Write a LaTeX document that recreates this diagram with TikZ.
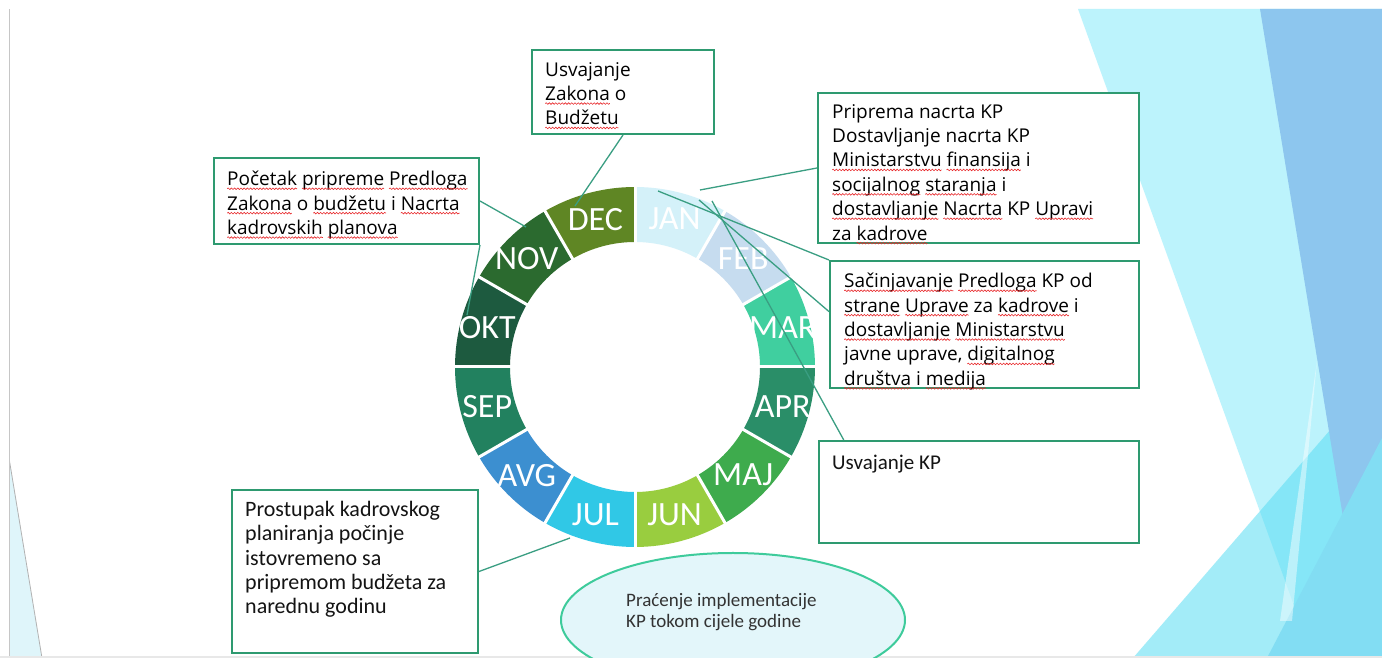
\documentclass[tikz,border=0pt]{standalone}
\usepackage{fontspec}
\usetikzlibrary{calc,shapes.geometric,decorations.pathmorphing}
\newfontfamily\boxfont{Open Sans}
\newfontfamily\twfont{Carlito}
\definecolor{sqred}{HTML}{E8282B}
\newcommand\sq[1]{\tikz[baseline=(sqw.base)]{\node[inner sep=0pt,outer sep=0pt] (sqw) {#1};\draw[overlay, sqred, line width=0.6pt, decorate, decoration={snake, amplitude=0.8pt, segment length=3.2pt}] ([yshift=-3pt]sqw.base west) -- ([yshift=-3pt]sqw.base east);}}
\definecolor{cJAN}{HTML}{D4F1F9}
\definecolor{cFEB}{HTML}{C6DCEF}
\definecolor{cMAR}{HTML}{40CF9F}
\definecolor{cAPR}{HTML}{2A8E68}
\definecolor{cMAJ}{HTML}{3EAB4D}
\definecolor{cJUN}{HTML}{99CD3F}
\definecolor{cJUL}{HTML}{30C8E6}
\definecolor{cAVG}{HTML}{3C8FD0}
\definecolor{cSEP}{HTML}{22815F}
\definecolor{cOKT}{HTML}{1D5A3F}
\definecolor{cNOV}{HTML}{2B6A2F}
\definecolor{cDEC}{HTML}{5F8624}
\definecolor{boxc}{HTML}{2E9A70}
\definecolor{linec}{HTML}{3A9E82}
\definecolor{ellc}{HTML}{3ECB9B}
\definecolor{ellf}{HTML}{E3F6FA}
\definecolor{bgA}{HTML}{BCF3FC}
\definecolor{bgB}{HTML}{8DC6EE}
\definecolor{bgC}{HTML}{58DDF3}
\definecolor{bgD}{HTML}{82DDF3}
\definecolor{bgL}{HTML}{DFF5FA}
\tikzset{
  box/.style={draw=boxc, line width=2, fill=white, inner sep=0, anchor=north west},
  btxt/.style={inner sep=0, anchor=north west, align=left, text=black, font=\boxfont\fontsize{19}{24.4}\selectfont},
  ttxt/.style={inner sep=0, anchor=north west, align=left, text=black!92, font=\twfont\fontsize{22}{24.3}\selectfont},
  month/.style={inner sep=0, text=white, font=\twfont\fontsize{34}{34}\selectfont},
  conn/.style={draw=linec, line width=1.3},
}
\begin{document}
\begin{tikzpicture}[x=1pt,y=1pt]
\useasboundingbox (0,0) rectangle (1382,658);
\fill[white] (0,0) rectangle (1382,658);
% background decoration
\begin{scope}
\clip (9,0) rectangle (1382,649);
\fill[bgA] (1078,649) -- (1382,649) -- (1382,0) -- (1313,0) -- cycle;
\fill[bgC, opacity=0.55] (1133,0) -- (1382,288) -- (1382,0) -- cycle;
\fill[bgB] (1260,649) -- (1382,649) -- (1382,0) -- (1366,0) -- cycle;
\fill[bgD] (1267,0) -- (1382,220) -- (1382,0) -- cycle;
\fill[white, opacity=0.45] (1317,297) -- (1280,37) -- (1292,37) -- cycle;
\fill[bgL] (9,200) -- (42,0) -- (9,0) -- cycle;
\draw[color=gray!60, line width=0.8] (9,200) -- (42,0);
\end{scope}
\draw[color=gray!45, line width=1] (9,0) -- (9,649);
\fill[gray!18] (0,0) rectangle (1382,2);
% ring
\coordinate (c) at (635,291);
\foreach \col [count=\i from 0] in {cJAN,cFEB,cMAR,cAPR,cMAJ,cJUN,cJUL,cAVG,cSEP,cOKT,cNOV,cDEC} {
  \pgfmathsetmacro\a{90-30*\i}
  \pgfmathsetmacro\b{60-30*\i}
  \fill[\col] ($(c)+(\a:180)$) arc[start angle=\a, end angle=\b, radius=180] -- ($(c)+(\b:125)$) arc[start angle=\b, end angle=\a, radius=125] -- cycle;
}
\foreach \k in {0,...,11} {
  \draw[white, line width=3] ($(c)+(90-30*\k:120)$) -- ($(c)+(90-30*\k:186)$);
}
\foreach \m [count=\i from 0] in {JAN,FEB,MAR,APR,MAJ,JUN,JUL,AVG,SEP,OKT,NOV,DEC} {
  \node[month] (m\m) at ($(c)+({75-30*\i}:153)$) {\m};
}
% boxes
\node[box, minimum width=182, minimum height=84] (b1) at (531,609) {};
\node[box, minimum width=265, minimum height=86] (b2) at (213,501) {};
\node[box, minimum width=321, minimum height=150] (b3) at (817,566) {};
\node[box, minimum width=309, minimum height=127] (b4) at (829,398) {};
\node[box, minimum width=320, minimum height=102] (b5) at (818,218) {};
\node[box, minimum width=246, minimum height=163] (b6) at (231,169) {};
\node[ellipse, draw=ellc, fill=ellf, line width=2, minimum width=344, minimum height=134, inner sep=0] (ell) at (733,38) {};
% ring anchor points
\coordinate (pDEC) at (575,452);
\coordinate (pNOV) at (526,431);
\coordinate (pOKT) at (467,343);
\coordinate (pJAN1) at (700,468);
\coordinate (pJAN2) at (658,467);
\coordinate (pJAN3) at (699,458);
\coordinate (pJAN4) at (712,457);
\coordinate (pJUL) at (570,120);
% connectors
\draw[conn] (b1.south) -- (pDEC);
\draw[conn] (b2.east) -- (pNOV);
\draw[conn] (b2.south east) -- (pOKT);
\draw[conn] (b3.west) -- (pJAN1);
\draw[conn] (pJAN2) -- (b4.north west);
\draw[conn] (pJAN3) -- ($(b4.north west)!0.4!(b4.south west)$);
\draw[conn] (pJAN4) -- ($(b5.north west)!0.08!(b5.north east)$);
\draw[conn] (pJUL) -- (b6.east);
% texts
\node[btxt] (t1) at (545,596) {Usvajanje\\\sq{Zakona} o\\\sq{Budžetu}};
\node[btxt] (t2) at (227,487) {\sq{Početak} \sq{pripreme} \sq{Predloga}\\\sq{Zakona} o \sq{budžetu} i \sq{Nacrta}\\\sq{kadrovskih} \sq{planova}};
\node[btxt] (t3) at (832,554) {Priprema nacrta KP\\Dostavljanje nacrta KP\\\sq{Ministarstvu} \sq{finansija} i\\\sq{socijalnog} \sq{staranja} i\\\sq{dostavljanje} \sq{Nacrta} KP \sq{Upravi}\\za \sq{kadrove}};
\node[btxt] (t4) at (844,385) {\sq{Sačinjavanje} \sq{Predloga} KP od\\\sq{strane} \sq{Uprave} za \sq{kadrove} i\\\sq{dostavljanje} \sq{Ministarstvu}\\javne uprave, \sq{digitalnog}\\\sq{društva} i \sq{medija}};
\node[ttxt, font=\twfont\fontsize{21}{24}\selectfont] (t5) at (832,203) {Usvajanje KP};
\node[ttxt] (t6) at (245,157) {Prostupak kadrovskog\\planiranja počinje\\istovremeno sa\\pripremom budžeta za\\narednu godinu};
\node[inner sep=0, anchor=north west, align=left, text=black!80, font=\twfont\fontsize{19}{21}\selectfont] (t7) at (626,65) {Praćenje implementacije\\KP tokom cijele godine};
\end{tikzpicture}
\end{document}
